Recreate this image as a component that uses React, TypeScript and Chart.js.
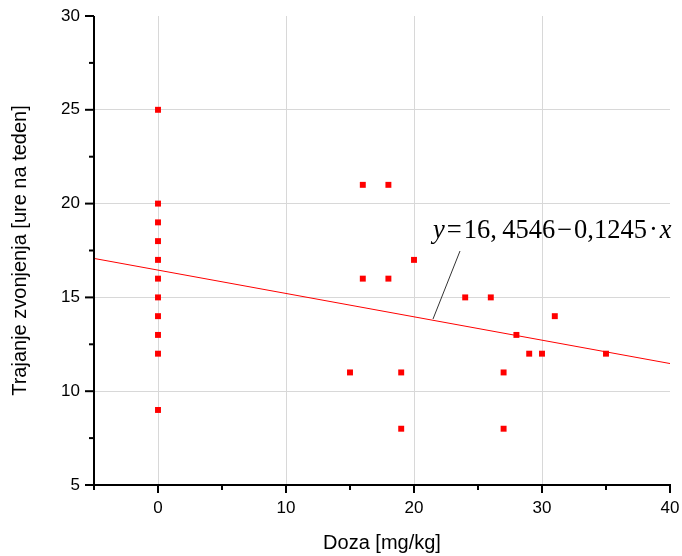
import React, { useEffect, useRef } from "react";
import { Chart, registerables } from "chart.js";

Chart.register(...registerables);

const doseValues = [0, 0, 0, 0, 0, 0, 0, 0, 0, 0, 0, 15, 16, 16, 18, 18, 19, 19, 20, 24, 26, 27, 27, 28, 29, 30, 31, 35];
const hoursValues = [25, 20, 19, 18, 17, 16, 15, 14, 13, 12, 9, 11, 21, 16, 21, 16, 11, 8, 17, 15, 15, 11, 8, 13, 12, 12, 14, 12];
const fitIntercept = 16.4546;
const fitSlope = -0.1245;
const fitRange = [-5, 40];
const xTickLabels = [0, 10, 20, 30, 40];
const yTickLabels = [5, 10, 15, 20, 25, 30];

const overlay = {
  id: "overlay",
  afterDraw(chart: any) {
    const ctx = chart.ctx;
    const xs = chart.scales.x;
    const ys = chart.scales.y;
    const { left, right, top, bottom } = chart.chartArea;
    ctx.save();
    ctx.strokeStyle = "#000";
    ctx.lineWidth = 2;
    ctx.beginPath();
    ctx.moveTo(left, top);
    ctx.lineTo(left, bottom + 1);
    ctx.moveTo(left - 1, bottom);
    ctx.lineTo(right + 1, bottom);
    ctx.stroke();
    for (let v = -5; v <= 40; v += 5) {
      const px = xs.getPixelForValue(v);
      const len = v % 10 === 0 ? 8 : 5;
      ctx.beginPath();
      ctx.moveTo(px, bottom);
      ctx.lineTo(px, bottom + len);
      ctx.stroke();
    }
    for (let v = 5; v <= 30; v += 2.5) {
      const py = ys.getPixelForValue(v);
      const len = v % 5 === 0 ? 9 : 5;
      ctx.beginPath();
      ctx.moveTo(left, py);
      ctx.lineTo(left - len, py);
      ctx.stroke();
    }
    ctx.fillStyle = "#000";
    ctx.font = "20px 'Liberation Sans', Arial, sans-serif";
    ctx.textAlign = "center";
    ctx.textBaseline = "middle";
    ctx.fillText("Doza [mg/kg]", (left + right) / 2, 543);
    ctx.save();
    ctx.translate(20, (top + bottom) / 2);
    ctx.rotate(-Math.PI / 2);
    ctx.fillText("Trajanje zvonjenja [ure na teden]", 0, 0);
    ctx.restore();
    ctx.strokeStyle = "#333";
    ctx.lineWidth = 1;
    ctx.beginPath();
    ctx.moveTo(460, 251);
    ctx.lineTo(433, 319);
    ctx.stroke();
    const parts: [string, string][] = [
      ["y", "italic"],
      ["=", "normal"],
      ["16,", "normal"],
      ["\u2009", "normal"],
      ["4546", "normal"],
      ["\u2212", "normal"],
      ["0,1245", "normal"],
      ["\u00b7", "normal"],
      ["x", "italic"],
    ];
    const size = 26.5;
    ctx.textAlign = "left";
    ctx.textBaseline = "alphabetic";
    let x = 433;
    const base = 238;
    for (const [t, st] of parts) {
      ctx.font = `${st} ${size}px 'Liberation Serif', 'Times New Roman', serif`;
      const pad = t === "=" || t === "\u2212" || t === "\u00b7" ? 2 : 0;
      x += pad;
      ctx.fillText(t, x, base);
      x += ctx.measureText(t).width + pad;
    }
    ctx.restore();
  },
};

const zeroPad = (s: any) => {
  s.paddingTop = 0;
  s.paddingBottom = 0;
  s.paddingLeft = 0;
  s.paddingRight = 0;
};

export default function App() {
  const ref = useRef<HTMLCanvasElement>(null);
  useEffect(() => {
    const points = doseValues.map((d, i) => ({ x: d, y: hoursValues[i] }));
    const fit = fitRange.map((x) => ({ x, y: fitIntercept + fitSlope * x }));
    const chart = new Chart(ref.current!, {
      type: "scatter",
      data: {
        datasets: [
          {
            type: "line",
            data: fit,
            borderColor: "#ff0000",
            borderWidth: 1,
            pointRadius: 0,
            fill: false,
          } as any,
          {
            data: points,
            pointStyle: "rect",
            pointRadius: 4.2,
            pointBorderWidth: 0,
            backgroundColor: "#ff0000",
            borderColor: "#ff0000",
          },
        ],
      },
      options: {
        animation: false,
        responsive: false,
        events: [],
        layout: { padding: { top: 16, right: 12, left: 0, bottom: 0 } },
        plugins: { legend: { display: false }, tooltip: { enabled: false } },
        scales: {
          x: {
            type: "linear",
            min: -5,
            max: 40,
            afterFit: (s: any) => {
              s.height = 71;
              zeroPad(s);
            },
            afterBuildTicks: (s: any) => {
              const t = [];
              for (let v = -5; v <= 40; v += 5) t.push({ value: v });
              s.ticks = t;
            },
            ticks: {
              padding: 13,
              color: "#000",
              font: { family: "'Liberation Sans', Arial, sans-serif", size: 17 },
              maxRotation: 0,
              autoSkip: false,
              callback: (v: any) => (xTickLabels.includes(Number(v)) ? String(v) : ""),
            },
            grid: {
              drawTicks: false,
              color: (c: any) => {
                const v = c.tick?.value;
                return v !== undefined && v % 10 === 0 && v > -5 && v < 40 ? "#d8d8d8" : "rgba(0,0,0,0)";
              },
            },
            border: { display: false },
          },
          y: {
            type: "linear",
            min: 5,
            max: 30,
            afterFit: (s: any) => {
              s.width = 94;
              zeroPad(s);
            },
            afterBuildTicks: (s: any) => {
              const t = [];
              for (let v = 5; v <= 30; v += 2.5) t.push({ value: v });
              s.ticks = t;
            },
            ticks: {
              padding: 14,
              color: "#000",
              font: { family: "'Liberation Sans', Arial, sans-serif", size: 17 },
              autoSkip: false,
              callback: (v: any) => (yTickLabels.includes(Number(v)) ? String(v) : ""),
            },
            grid: {
              drawTicks: false,
              color: (c: any) => {
                const v = c.tick?.value;
                return v !== undefined && v % 5 === 0 && v > 5 && v < 30 ? "#d8d8d8" : "rgba(0,0,0,0)";
              },
            },
            border: { display: false },
          },
        },
      },
      plugins: [overlay],
    });
    return () => chart.destroy();
  }, []);
  return (
    <div style={{ position: "fixed", left: 0, top: 0, width: 682, height: 556, background: "#fff" }}>
      <canvas ref={ref} width={682} height={556} />
    </div>
  );
}
